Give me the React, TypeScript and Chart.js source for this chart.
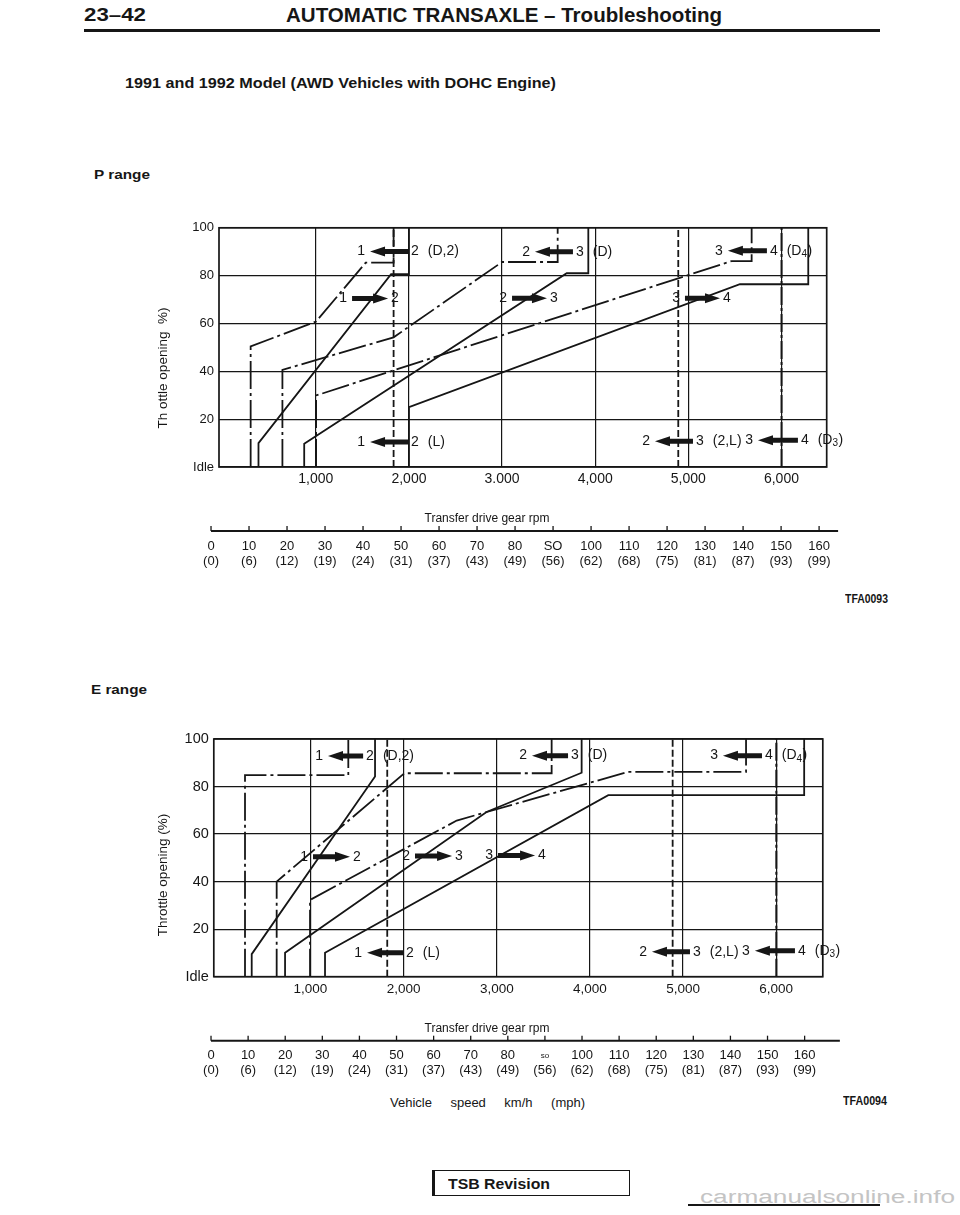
import React, { useEffect, useLayoutEffect, useRef } from "react";
import { Chart, registerables } from "chart.js";

Chart.register(...registerables);

const FONT = '"Liberation Sans", Arial, Helvetica, sans-serif';
const INK = "#161616";

type Pt = [number, number];

// ---------------- shared axis data ----------------
const throttleTicks = [0, 20, 40, 60, 80, 100];
const throttleLabels = ["Idle", "20", "40", "60", "80", "100"];
const rpmTicks = [1000, 2000, 3000, 4000, 5000, 6000];
const pRpmLabels = ["1,000", "2,000", "3.000", "4,000", "5,000", "6,000"];
const eRpmLabels = ["1,000", "2,000", "3,000", "4,000", "5,000", "6,000"];
const speedKmh = [0, 10, 20, 30, 40, 50, 60, 70, 80, 90, 100, 110, 120, 130, 140, 150, 160];
const pKmhLabels = ["0", "10", "20", "30", "40", "50", "60", "70", "80", "SO", "100", "110", "120", "130", "140", "150", "160"];
const eKmhLabels = ["0", "10", "20", "30", "40", "50", "60", "70", "80", "so", "100", "110", "120", "130", "140", "150", "160"];
const mphLabels = ["(0)", "(6)", "(12)", "(19)", "(24)", "(31)", "(37)", "(43)", "(49)", "(56)", "(62)", "(68)", "(75)", "(81)", "(87)", "(93)", "(99)"];

// ---------------- P range shift lines [rpm, throttle %] ----------------
const pUp12: Pt[] = [[384, 0], [384, 10], [1808, 80.6], [2000, 80.6], [2000, 100]];
const pDown12: Pt[] = [[300, 0], [300, 50.4], [1002, 60.8], [1535, 85.4], [1835, 85.4], [1835, 100]];
const pUp23: Pt[] = [[875, 0], [875, 9.7], [3694, 81], [3926, 81], [3926, 100]];
const pDown23: Pt[] = [[641, 0], [641, 40.6], [1835, 54.2], [3000, 85.7], [3597, 85.7], [3597, 100]];
const pUp34: Pt[] = [[2000, 0], [2000, 25], [5554, 76.4], [6288, 76.4], [6288, 100]];
const pDown34: Pt[] = [[1003, 0], [1003, 29.9], [5465, 86.1], [5680, 86.1], [5680, 100]];
const pManual12: Pt[] = [[1835, 0], [1835, 100]];
const pManual23: Pt[] = [[4892, 0], [4892, 100]];
const pManual34: Pt[] = [[6001, 0], [6001, 100]];

// ---------------- E range shift lines [rpm, throttle %] ----------------
const eDown12: Pt[] = [[297, 0], [297, 84.8], [1406, 84.8], [1406, 100]];
const eUp12: Pt[] = [[369, 0], [369, 9.5], [1693, 84.2], [1693, 100]];
const eDown23: Pt[] = [[637, 0], [637, 40], [2008, 85.6], [3589, 85.6], [3589, 100]];
const eUp23: Pt[] = [[727, 0], [727, 10.1], [2890, 69.3], [3911, 85.8], [3911, 100]];
const eDown34: Pt[] = [[995, 0], [995, 32.3], [2570, 65.7], [4412, 86.2], [5676, 86.2], [5676, 100]];
const eUp34: Pt[] = [[1156, 0], [1156, 10.1], [4197, 76.4], [6300, 76.4], [6300, 100]];
const eManual12: Pt[] = [[1824, 0], [1824, 100]];
const eManual23: Pt[] = [[4888, 0], [4888, 100]];
const eManual34: Pt[] = [[6001, 0], [6001, 100]];

// ---------------- shift arrows: gear labels, arrow rpm span, throttle ----------------
type Ann = { left: string; right: string; note: string; dir: "l" | "r"; rpm0: number; rpm1: number; thr: number };
const pNotes: Ann[] = [
  { left: "1", right: "2", note: "(D,2)", dir: "l", rpm0: 1582, rpm1: 1990, thr: 90.1 },
  { left: "1", right: "2", note: "", dir: "r", rpm0: 1389, rpm1: 1776, thr: 70.4 },
  { left: "1", right: "2", note: "(L)", dir: "l", rpm0: 1582, rpm1: 1990, thr: 10.5 },
  { left: "2", right: "3", note: "(D)", dir: "l", rpm0: 3353, rpm1: 3761, thr: 90 },
  { left: "2", right: "3", note: "", dir: "r", rpm0: 3107, rpm1: 3482, thr: 70.5 },
  { left: "3", right: "4", note: "(D_4)", dir: "l", rpm0: 5425, rpm1: 5844, thr: 90.4 },
  { left: "3", right: "4", note: "", dir: "r", rpm0: 4964, rpm1: 5340, thr: 70.5 },
  { left: "2", right: "3", note: "(2,L)", dir: "l", rpm0: 4642, rpm1: 5050, thr: 10.8 },
  { left: "3", right: "4", note: "(D_3)", dir: "l", rpm0: 5748, rpm1: 6177, thr: 11.2 },
];
const eNotes: Ann[] = [
  { left: "1", right: "2", note: "(D,2)", dir: "l", rpm0: 1188, rpm1: 1565, thr: 92.8 },
  { left: "1", right: "2", note: "", dir: "r", rpm0: 1027, rpm1: 1424, thr: 50.5 },
  { left: "2", right: "3", note: "", dir: "r", rpm0: 2122, rpm1: 2520, thr: 50.8 },
  { left: "1", right: "2", note: "(L)", dir: "l", rpm0: 1607, rpm1: 1993, thr: 10.1 },
  { left: "2", right: "3", note: "(D)", dir: "l", rpm0: 3378, rpm1: 3765, thr: 93 },
  { left: "3", right: "4", note: "", dir: "r", rpm0: 3013, rpm1: 3411, thr: 51 },
  { left: "3", right: "4", note: "(D_4)", dir: "l", rpm0: 5428, rpm1: 5847, thr: 93 },
  { left: "2", right: "3", note: "(2,L)", dir: "l", rpm0: 4666, rpm1: 5074, thr: 10.5 },
  { left: "3", right: "4", note: "(D_3)", dir: "l", rpm0: 5771, rpm1: 6201, thr: 10.9 },
];

// ---------------- styles & layout ----------------
type Kind = "up" | "down" | "manual" | "manualDashDot";
const lineStyles: Record<Kind, { width: number; dash: number[] }> = {
  up: { width: 1.8, dash: [] },
  down: { width: 1.8, dash: [28, 4, 3, 4] },
  manual: { width: 1.8, dash: [7, 3] },
  manualDashDot: { width: 2, dash: [18, 3, 3, 3] },
};

type Spec = {
  lines: { pts: Pt[]; kind: Kind }[];
  notes: Ann[];
  rpmLabels: string[];
  kmhLabels: string[];
  yTitle: string;
  rpmMin: number;
  rpmMax: number;
  kmhMin: number;
  kmhMax: number;
  kmhEnd: number;
  geom: {
    left: number; top: number; w: number; h: number;
    padTop: number; padRight: number; yW: number; xH: number;
    yTitleX: number; yTitleY: number; rpmTitleX: number;
    xTickSize: number; yTickSize: number;
  };
};

const pSpec: Spec = {
  lines: [
    { pts: pManual12, kind: "manual" },
    { pts: pManual23, kind: "manual" },
    { pts: pManual34, kind: "manualDashDot" },
    { pts: pDown12, kind: "down" },
    { pts: pUp12, kind: "up" },
    { pts: pDown23, kind: "down" },
    { pts: pUp23, kind: "up" },
    { pts: pDown34, kind: "down" },
    { pts: pUp34, kind: "up" },
  ],
  notes: pNotes,
  rpmLabels: pRpmLabels,
  kmhLabels: pKmhLabels,
  yTitle: "Th ottle opening  %)",
  rpmMin: -40,
  rpmMax: 6486,
  kmhMin: 2.1,
  kmhMax: 162.0,
  kmhEnd: 165,
  geom: {
    left: 140, top: 215, w: 720, h: 365,
    padTop: 12, padRight: 33.3, yW: 79, xH: 113,
    yTitleX: 23, yTitleY: 153, rpmTitleX: 347,
    xTickSize: 14, yTickSize: 13,
  },
};

const eSpec: Spec = {
  lines: [
    { pts: eManual12, kind: "manual" },
    { pts: eManual23, kind: "manual" },
    { pts: eManual34, kind: "manualDashDot" },
    { pts: eDown12, kind: "down" },
    { pts: eUp12, kind: "up" },
    { pts: eDown23, kind: "down" },
    { pts: eUp23, kind: "up" },
    { pts: eDown34, kind: "down" },
    { pts: eUp34, kind: "up" },
  ],
  notes: eNotes,
  rpmLabels: eRpmLabels,
  kmhLabels: eKmhLabels,
  yTitle: "Throttle opening (%)",
  rpmMin: -38,
  rpmMax: 6500,
  kmhMin: 0.75,
  kmhMax: 164.9,
  kmhEnd: 169.5,
  geom: {
    left: 140, top: 725, w: 720, h: 365,
    padTop: 14, padRight: 37.2, yW: 73.8, xH: 113.3,
    yTitleX: 23, yTitleY: 150, rpmTitleX: 347,
    xTickSize: 13.5, yTickSize: 14.5,
  },
};

// ---------------- drawing helpers ----------------
function drawArrow(ctx: CanvasRenderingContext2D, x0: number, x1: number, y: number, dir: "l" | "r") {
  const head = 15, hh = 5, th = 2.5;
  ctx.beginPath();
  if (dir === "l") {
    ctx.moveTo(x0, y);
    ctx.lineTo(x0 + head, y - hh);
    ctx.lineTo(x0 + head, y - th);
    ctx.lineTo(x1, y - th);
    ctx.lineTo(x1, y + th);
    ctx.lineTo(x0 + head, y + th);
    ctx.lineTo(x0 + head, y + hh);
  } else {
    ctx.moveTo(x1, y);
    ctx.lineTo(x1 - head, y - hh);
    ctx.lineTo(x1 - head, y - th);
    ctx.lineTo(x0, y - th);
    ctx.lineTo(x0, y + th);
    ctx.lineTo(x1 - head, y + th);
    ctx.lineTo(x1 - head, y + hh);
  }
  ctx.closePath();
  ctx.fill();
}

function drawNote(ctx: CanvasRenderingContext2D, note: string, x: number, y: number) {
  const i = note.indexOf("_");
  if (i < 0) {
    ctx.fillText(note, x, y);
    return;
  }
  const a = note.slice(0, i);
  const sub = note.slice(i + 1, i + 2);
  const b = note.slice(i + 2);
  ctx.fillText(a, x, y);
  let cx = x + ctx.measureText(a).width;
  const f = ctx.font;
  ctx.font = `10px ${FONT}`;
  ctx.fillText(sub, cx, y + 3.5);
  cx += ctx.measureText(sub).width + 0.5;
  ctx.font = f;
  ctx.fillText(b, cx, y);
}

function decorPlugin(spec: Spec) {
  return {
    id: "shiftDecor",
    afterDatasetsDraw(chart: any) {
      const { ctx, chartArea: a, scales } = chart;
      const xs = scales.x, ys = scales.y, ks = scales.kmh;
      const g = spec.geom;
      ctx.save();
      ctx.setLineDash([]);
      ctx.strokeStyle = INK;
      ctx.fillStyle = INK;
      // frame
      ctx.lineWidth = 1.7;
      ctx.strokeRect(a.left, a.top, a.right - a.left, a.bottom - a.top);

      // shift arrows
      ctx.font = `14px ${FONT}`;
      ctx.textBaseline = "middle";
      for (const n of spec.notes) {
        const x0 = xs.getPixelForValue(n.rpm0);
        const x1 = xs.getPixelForValue(n.rpm1);
        const y = ys.getPixelForValue(n.thr);
        drawArrow(ctx, x0, x1, y, n.dir);
        ctx.textAlign = "right";
        ctx.fillText(n.left, x0 - 5, y);
        ctx.textAlign = "left";
        ctx.fillText(n.right, x1 + 3, y);
        if (n.note) drawNote(ctx, n.note, x1 + 3 + ctx.measureText(n.right).width + 9, y);
      }

      // y title
      ctx.save();
      ctx.translate(g.yTitleX, g.yTitleY);
      ctx.rotate(-Math.PI / 2);
      ctx.textAlign = "center";
      ctx.font = `13.5px ${FONT}`;
      ctx.fillText(spec.yTitle, 0, 0);
      ctx.restore();

      // lower speed axis
      const base = a.bottom + 64;
      ctx.textAlign = "center";
      ctx.font = `12px ${FONT}`;
      ctx.fillText("Transfer drive gear rpm", g.rpmTitleX, a.bottom + 52);
      ctx.lineWidth = 2;
      ctx.beginPath();
      ctx.moveTo(ks.getPixelForValue(0), base);
      ctx.lineTo(ks.getPixelForValue(spec.kmhEnd), base);
      ctx.stroke();
      ctx.lineWidth = 1.3;
      speedKmh.forEach((v, i) => {
        const x = ks.getPixelForValue(v);
        ctx.beginPath();
        ctx.moveTo(x, base);
        ctx.lineTo(x, base - 5);
        ctx.stroke();
        const lbl = spec.kmhLabels[i];
        ctx.font = lbl === "so" ? `8px ${FONT}` : `13px ${FONT}`;
        ctx.fillText(lbl, x, base + 15);
        ctx.font = `13px ${FONT}`;
        ctx.fillText(mphLabels[i], x, base + 30);
      });
      ctx.restore();
    },
  };
}

function ShiftChart({ spec }: { spec: Spec }) {
  const ref = useRef<HTMLCanvasElement>(null);
  const g = spec.geom;
  useEffect(() => {
    const canvas = ref.current;
    if (!canvas) return;
    const chart = new Chart(canvas, {
      type: "scatter",
      data: {
        datasets: spec.lines.map((s) => {
          const st = lineStyles[s.kind];
          return {
            data: s.pts.map(([x, y]) => ({ x, y })),
            showLine: true,
            borderColor: INK,
            borderWidth: st.width,
            borderDash: st.dash,
            pointRadius: 0,
            pointHoverRadius: 0,
            fill: false,
            tension: 0,
            clip: 4,
          };
        }),
      },
      options: {
        animation: false,
        responsive: false,
        devicePixelRatio: 1,
        events: [],
        layout: { padding: { top: g.padTop, right: g.padRight, left: 0, bottom: 0 } },
        plugins: { legend: { display: false }, tooltip: { enabled: false } },
        scales: {
          x: {
            type: "linear",
            position: "bottom",
            min: spec.rpmMin,
            max: spec.rpmMax,
            afterBuildTicks: (s: any) => {
              s.ticks = rpmTicks.map((v) => ({ value: v }));
            },
            afterFit: (s: any) => {
              s.height = g.xH;
            },
            grid: { color: INK, lineWidth: 1.2, drawTicks: false },
            border: { display: false },
            ticks: {
              autoSkip: false,
              maxRotation: 0,
              padding: 4,
              color: INK,
              font: { family: FONT, size: g.xTickSize },
              callback: (_v: any, i: number) => spec.rpmLabels[i] ?? "",
            },
          },
          y: {
            type: "linear",
            position: "left",
            min: 0,
            max: 100,
            afterBuildTicks: (s: any) => {
              s.ticks = throttleTicks.map((v) => ({ value: v }));
            },
            afterFit: (s: any) => {
              s.width = g.yW;
            },
            grid: { color: INK, lineWidth: 1.2, drawTicks: false },
            border: { display: false },
            ticks: {
              autoSkip: false,
              padding: 5,
              color: INK,
              font: { family: FONT, size: g.yTickSize },
              callback: (_v: any, i: number) => throttleLabels[i] ?? "",
            },
          },
          kmh: {
            type: "linear",
            position: "bottom",
            display: false,
            min: spec.kmhMin,
            max: spec.kmhMax,
          },
        },
      } as any,
      plugins: [decorPlugin(spec)],
    } as any);
    return () => chart.destroy();
  }, [spec]);
  return (
    <canvas
      ref={ref}
      width={g.w}
      height={g.h}
      style={{ position: "absolute", left: g.left, top: g.top, width: g.w, height: g.h }}
    />
  );
}

function Txt(props: {
  x: number; y: number; size: number; text: string; bold?: boolean; w?: number; color?: string; spread?: boolean;
}) {
  const { x, y, size, text, bold, w, color, spread } = props;
  const ref = useRef<HTMLDivElement>(null);
  useLayoutEffect(() => {
    const el = ref.current;
    if (!el || !w) return;
    el.style.transform = "none";
    el.style.wordSpacing = "0px";
    const actual = el.getBoundingClientRect().width;
    if (actual <= 0) return;
    const gaps = (text.match(/ /g) || []).length;
    if (spread && gaps > 0) {
      el.style.wordSpacing = `${(w - actual) / gaps}px`;
    } else {
      el.style.transform = `scaleX(${w / actual})`;
    }
  }, [w, text, spread]);
  return (
    <div
      ref={ref}
      style={{
        position: "absolute",
        left: x,
        top: y - size * 0.5,
        fontSize: size,
        lineHeight: `${size}px`,
        fontWeight: bold ? 700 : 400,
        fontFamily: FONT,
        whiteSpace: "pre",
        transformOrigin: "left center",
        color: color ?? INK,
      }}
    >
      {text}
    </div>
  );
}

export default function App() {
  return (
    <div style={{ position: "absolute", left: 0, top: 0, width: 960, height: 1215, background: "#fff", overflow: "hidden" }}>
      <Txt x={84} y={15} size={18} bold text="23–42" w={62} />
      <Txt x={286} y={15} size={20} bold text="AUTOMATIC TRANSAXLE – Troubleshooting" w={436} />
      <div style={{ position: "absolute", left: 84, top: 29, width: 796, height: 3, background: INK }} />
      <Txt x={125} y={82} size={15} bold text="1991 and 1992 Model (AWD Vehicles with DOHC Engine)" w={431} />
      <Txt x={94} y={174} size={13} bold text="P range" w={56} />
      <ShiftChart spec={pSpec} />
      <Txt x={845} y={598} size={13} bold text="TFA0093" w={43} />
      <Txt x={91} y={689} size={13} bold text="E range" w={56} />
      <ShiftChart spec={eSpec} />
      <Txt x={390} y={1102} size={13} text="Vehicle speed km/h (mph)" w={195} spread />
      <Txt x={843} y={1100} size={13} bold text="TFA0094" w={44} />
      <div
        style={{
          position: "absolute",
          left: 432,
          top: 1170,
          width: 198,
          height: 26,
          borderTop: `1.5px solid ${INK}`,
          borderRight: `1.5px solid ${INK}`,
          borderBottom: `1.5px solid ${INK}`,
          borderLeft: `3px solid ${INK}`,
          boxSizing: "border-box",
        }}
      />
      <Txt x={448} y={1183} size={15} bold text="TSB Revision" w={102} />
      <div style={{ position: "absolute", left: 688, top: 1204, width: 192, height: 2, background: INK }} />
      <Txt x={700} y={1197} size={18} text="carmanualsonline.info" w={255} color="#c4c4c4" />
    </div>
  );
}
